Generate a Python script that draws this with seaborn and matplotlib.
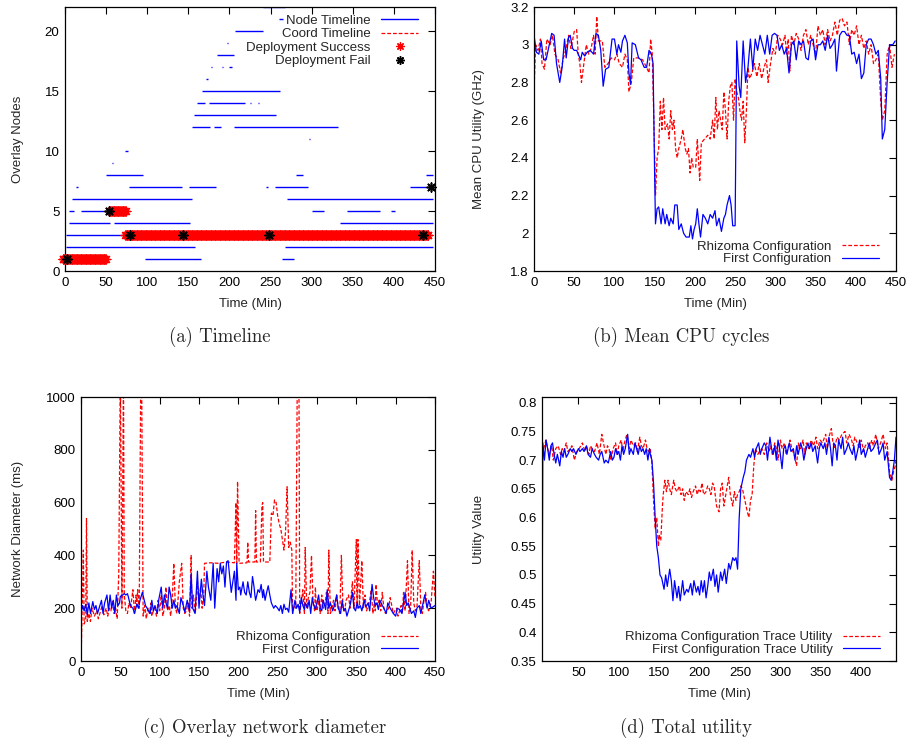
import numpy as np
import pandas as pd
import matplotlib
matplotlib.use("Agg")
import matplotlib.pyplot as plt
from matplotlib.lines import Line2D
from matplotlib.ticker import FuncFormatter, MultipleLocator
import seaborn as sns

# ---------------- DATA ----------------
# (a) Timeline: node timeline segments (level, start, end)
node_segments = [
    (1, 97, 165), (1, 264, 279),
    (2, 1, 158), (2, 267, 447),
    (3, 1, 73),
    (4, 5, 55), (4, 60, 152), (4, 334, 447),
    (5, 5, 11), (5, 19, 53), (5, 300, 315), (5, 343, 383), (5, 396, 401),
    (6, 8, 155), (6, 270, 447),
    (7, 13, 16), (7, 78, 142), (7, 151, 184), (7, 245, 246.5), (7, 256, 296), (7, 420, 447),
    (8, 50, 94.5), (8, 281, 289), (8, 439, 447),
    (9, 57, 58),
    (10, 73, 77),
    (11, 143, 144), (11, 297, 298),
    (12, 154, 176), (12, 181, 190), (12, 205, 332),
    (13, 157, 257),
    (14, 160, 170), (14, 175.5, 219), (14, 225.5, 226.5), (14, 234.5, 235.5),
    (15, 167, 261.5),
    (16, 172, 173.5),
    (17, 178, 179), (17, 191.5, 192.5), (17, 199, 203),
    (18, 185, 205.5),
    (19, 196.5, 198),
    (20, 207, 241),
    (21, 222, 223), (21, 260, 265),
    (22, 241, 267.5),
]
# coordinator runs with a successful deployment every minute (level, start, end)
success_runs = [(1, -3, 50), (5, 54, 74), (3, 73, 442)]
# failed deployments (level, time)
fail_events = [(1, 3), (5, 53), (3, 79.5), (3, 143.5), (3, 248.5), (3, 436), (7, 445)]

# (b) Mean CPU utility (GHz)
cpu_first = [
    (0, 3.05), (3, 2.96), (6, 2.95), (9, 3.02), (12, 2.92), (15, 2.92), (19, 3.0), (22, 3.06),
    (25, 3.05), (28, 2.9), (32, 2.8), (35, 2.88), (38, 3.03), (40, 2.93), (43, 3.04), (45, 3.05),
    (48, 2.98), (50, 2.97), (53, 2.97), (55, 2.95), (58, 2.92), (60, 2.96), (63, 2.94), (66, 2.96),
    (70, 2.97), (74, 2.95), (77, 3.06), (80, 3.05), (83, 2.97), (86, 2.78), (89, 2.87), (93, 2.88),
    (97, 3.03), (100, 3.03), (103, 2.95), (105, 3.0), (108, 2.96), (110, 3.02), (113, 3.05),
    (116, 3.01), (118, 2.85), (120, 2.79), (122, 3.01), (126, 3.0), (130, 2.93), (133, 2.92),
    (137, 2.88), (140, 2.88), (143, 2.97), (146, 2.95), (148, 2.9), (150, 2.3), (151, 2.05),
    (153, 2.13), (155, 2.14), (158, 2.05), (160, 2.13), (163, 2.05), (165, 2.1), (168, 2.04),
    (170, 2.08), (173, 2.05), (175, 2.15), (178, 2.15), (180, 2.02), (183, 2.05), (186, 2.0),
    (189, 1.98), (193, 1.98), (195, 2.04), (197, 1.97), (199, 2.02), (201, 2.05), (203, 2.13),
    (205, 2.05), (207, 1.98), (210, 2.1), (213, 2.08), (216, 2.05), (219, 2.1), (222, 2.08),
    (225, 2.12), (227, 2.04), (230, 2.08), (233, 2.01), (236, 2.08), (238, 2.1), (240, 2.15),
    (243, 2.2), (245, 2.15), (247, 2.04), (250, 2.04), (252, 3.02), (255, 2.78), (257, 2.72),
    (260, 3.02), (263, 2.8), (266, 2.88), (269, 3.03), (272, 2.87), (275, 3.03), (278, 2.97),
    (281, 3.05), (284, 3.0), (287, 2.95), (290, 3.05), (293, 2.95), (296, 3.05), (299, 3.06),
    (302, 3.05), (305, 2.97), (308, 3.0), (311, 2.95), (314, 2.98), (317, 2.85), (320, 3.0),
    (323, 3.02), (326, 2.92), (329, 3.02), (332, 3.0), (335, 3.02), (338, 2.93), (341, 2.92),
    (344, 3.02), (347, 3.03), (350, 2.92), (353, 3.0), (356, 3.0), (359, 3.02), (362, 2.97),
    (365, 3.05), (368, 2.98), (371, 3.0), (374, 3.03), (376, 2.86), (380, 3.05), (383, 3.07),
    (386, 3.07), (389, 3.05), (392, 3.05), (395, 2.95), (398, 2.96), (401, 2.9), (404, 2.95),
    (407, 2.82), (410, 2.85), (413, 3.0), (416, 3.03), (419, 3.03), (422, 3.0), (425, 2.95),
    (428, 2.97), (431, 2.82), (433, 2.5), (436, 2.55), (439, 2.8), (442, 3.0), (446, 3.0), (449, 3.02),
]
cpu_rhizoma = [
    (0, 2.75), (2, 3.0), (5, 2.97), (8, 3.03), (10, 2.9), (13, 2.87), (16, 3.03), (20, 3.0),
    (23, 3.05), (26, 2.95), (30, 2.92), (33, 2.85), (36, 2.92), (40, 2.98), (43, 3.05), (46, 2.98),
    (50, 3.07), (53, 3.08), (55, 2.95), (57, 2.9), (59, 2.8), (62, 2.9), (65, 3.0), (68, 2.95),
    (71, 2.98), (74, 3.05), (76, 2.95), (78, 3.15), (80, 3.02), (85, 3.02), (88, 2.88), (92, 2.9),
    (96, 2.93), (100, 2.92), (103, 2.95), (106, 2.9), (110, 2.88), (113, 2.95), (116, 2.92),
    (118, 2.75), (121, 2.8), (124, 2.93), (130, 2.93), (135, 2.92), (140, 2.88), (143, 2.85),
    (145, 3.03), (147, 2.95), (149, 2.6), (151, 2.2), (153, 2.4), (155, 2.45), (157, 2.7),
    (159, 2.55), (161, 2.72), (163, 2.55), (166, 2.58), (168, 2.5), (170, 2.65), (172, 2.55),
    (174, 2.6), (176, 2.45), (178, 2.4), (180, 2.45), (183, 2.5), (185, 2.55), (188, 2.45),
    (190, 2.42), (192, 2.45), (194, 2.32), (196, 2.4), (198, 2.35), (201, 2.35), (203, 2.5),
    (206, 2.28), (208, 2.48), (212, 2.5), (216, 2.52), (219, 2.5), (222, 2.6), (224, 2.5),
    (226, 2.72), (228, 2.55), (230, 2.65), (232, 2.6), (234, 2.55), (236, 2.75), (238, 2.65),
    (240, 2.5), (242, 2.7), (244, 2.78), (246, 2.8), (248, 2.6), (250, 2.82), (252, 2.75),
    (254, 2.72), (256, 2.65), (258, 2.6), (260, 2.7), (262, 2.48), (264, 2.65), (266, 2.88),
    (268, 2.82), (271, 2.85), (274, 2.9), (277, 2.83), (280, 2.9), (283, 2.82), (286, 2.88),
    (289, 2.92), (291, 2.8), (294, 2.9), (297, 2.98), (300, 2.95), (303, 3.05), (306, 3.03),
    (309, 3.0), (312, 3.05), (314, 2.95), (316, 3.03), (318, 2.86), (320, 3.05), (323, 3.0),
    (326, 3.06), (329, 3.03), (332, 2.97), (335, 3.05), (338, 3.08), (341, 3.0), (344, 3.05),
    (347, 3.0), (350, 2.95), (353, 3.1), (356, 3.05), (359, 3.08), (362, 3.0), (365, 3.08),
    (368, 3.02), (371, 3.05), (374, 3.12), (377, 3.05), (380, 3.13), (383, 3.14), (386, 3.1),
    (389, 3.12), (392, 3.0), (395, 3.08), (398, 3.05), (401, 3.1), (404, 3.0), (407, 3.05),
    (410, 2.98), (413, 3.02), (416, 2.95), (419, 3.0), (422, 2.9), (425, 2.92), (428, 2.95),
    (431, 2.7), (433, 2.6), (436, 2.65), (439, 2.95), (442, 3.0), (445, 2.88), (448, 2.95),
]

# (c) Overlay network diameter (ms)
diam_first = [
    (0, 180), (2, 210), (4, 190), (6, 215), (8, 175), (10, 220), (12, 180), (15, 225), (17, 195),
    (19, 210), (21, 180), (23, 200), (26, 230), (28, 180), (30, 220), (33, 250), (35, 190),
    (37, 250), (39, 200), (41, 230), (43, 180), (45, 250), (47, 210), (49, 220), (50, 245),
    (53, 250), (55, 255), (57, 250), (59, 255), (60, 245), (62, 220), (64, 205), (66, 200),
    (68, 180), (71, 215), (73, 200), (75, 230), (78, 260), (80, 235), (82, 210), (84, 200),
    (86, 190), (88, 180), (90, 230), (92, 190), (94, 210), (97, 180), (99, 235), (102, 280),
    (104, 200), (106, 250), (108, 220), (110, 200), (112, 280), (114, 250), (116, 200),
    (118, 230), (120, 200), (122, 210), (125, 180), (127, 240), (129, 220), (131, 200),
    (132, 185), (135, 230), (138, 190), (140, 330), (142, 200), (145, 180), (148, 340),
    (150, 200), (153, 310), (155, 250), (157, 210), (160, 340), (162, 280), (165, 230),
    (168, 370), (170, 200), (173, 350), (175, 300), (177, 370), (179, 330), (181, 360),
    (183, 280), (185, 375), (187, 380), (189, 320), (191, 260), (193, 300), (195, 340),
    (197, 230), (198, 370), (200, 270), (202, 280), (203, 250), (206, 300), (208, 260),
    (210, 250), (212, 300), (214, 260), (216, 240), (218, 320), (220, 280), (221, 250),
    (222, 230), (225, 270), (227, 260), (229, 290), (231, 240), (232, 270), (234, 230),
    (236, 260), (238, 285), (240, 250), (242, 220), (245, 200), (247, 210), (250, 200),
    (252, 190), (254, 210), (256, 180), (258, 215), (260, 195), (262, 200), (264, 185),
    (267, 270), (269, 180), (272, 230), (274, 200), (276, 215), (278, 185), (280, 240),
    (282, 210), (284, 195), (285, 220), (288, 200), (290, 230), (292, 180), (294, 240),
    (296, 210), (298, 195), (300, 220), (302, 250), (304, 200), (306, 190), (308, 230),
    (311, 195), (313, 270), (315, 200), (317, 220), (320, 190), (322, 210), (325, 250),
    (327, 200), (330, 180), (332, 230), (334, 190), (336, 200), (338, 170), (340, 190),
    (342, 210), (345, 260), (347, 200), (349, 190), (351, 220), (353, 200), (355, 210),
    (357, 190), (360, 230), (362, 205), (365, 220), (367, 190), (370, 290), (372, 240),
    (374, 210), (376, 220), (378, 195), (380, 230), (383, 210), (385, 200), (388, 180),
    (390, 220), (393, 200), (395, 190), (397, 180), (400, 170), (402, 200), (405, 195),
    (408, 180), (412, 260), (414, 210), (416, 220), (418, 200), (420, 180), (423, 190),
    (425, 165), (427, 200), (430, 210), (432, 180), (437, 250), (440, 200), (442, 230),
    (445, 200), (450, 210),
]
diam_rhizoma = [
    (0, 0), (1, 130), (3, 420), (4, 140), (6, 160), (7, 540), (8, 150), (10, 180), (12, 150),
    (14, 200), (17, 170), (20, 190), (22, 160), (24, 180), (27, 210), (29, 175), (32, 200),
    (34, 170), (36, 200), (38, 190), (40, 230), (42, 180), (44, 200), (46, 160), (48, 330),
    (50, 1100), (52, 200), (54, 1100), (55, 250), (57, 190), (59, 180), (61, 220), (63, 200),
    (66, 270), (68, 180), (70, 250), (71, 210), (72, 270), (74, 200), (76, 1100), (77, 1100),
    (79, 170), (81, 210), (83, 160), (85, 200), (87, 180), (89, 220), (90, 170), (92, 190),
    (94, 200), (96, 170), (98, 230), (100, 190), (102, 250), (104, 170), (106, 200), (108, 280),
    (110, 190), (112, 210), (114, 170), (116, 240), (118, 370), (120, 200), (122, 180),
    (125, 300), (128, 370), (130, 200), (132, 180), (134, 190), (136, 220), (138, 170),
    (140, 400), (141, 200), (143, 250), (145, 180), (146, 200), (148, 300), (150, 220),
    (152, 280), (154, 200), (156, 250), (157, 370), (165, 372), (175, 370), (185, 375),
    (195, 372), (197, 600), (198, 370), (199, 680), (201, 370), (211, 372), (212, 450),
    (213, 375), (221, 375), (222, 570), (223, 375), (228, 375), (230, 590), (231, 600),
    (232, 375), (240, 375), (242, 560), (244, 550), (246, 610), (248, 600), (250, 550),
    (252, 520), (254, 500), (256, 460), (258, 420), (260, 490), (262, 660), (264, 430),
    (266, 450), (268, 420), (269, 180), (271, 210), (273, 200), (275, 1100), (277, 1100),
    (278, 180), (280, 220), (282, 270), (284, 180), (285, 430), (287, 200), (289, 240),
    (291, 260), (293, 400), (295, 220), (297, 190), (298, 280), (299, 200), (300, 190),
    (302, 230), (304, 180), (306, 250), (308, 200), (310, 210), (312, 260), (314, 180),
    (315, 420), (317, 180), (319, 200), (321, 230), (323, 190), (325, 250), (327, 200),
    (329, 180), (331, 400), (333, 200), (335, 190), (337, 230), (340, 250), (342, 200),
    (345, 300), (347, 200), (350, 460), (351, 200), (352, 460), (354, 210), (357, 380),
    (359, 200), (361, 250), (363, 190), (365, 210), (367, 230), (369, 270), (371, 180),
    (373, 220), (374, 190), (375, 290), (377, 210), (379, 230), (381, 190), (383, 260),
    (385, 200), (387, 180), (389, 190), (391, 200), (393, 240), (395, 210), (397, 180),
    (399, 190), (401, 200), (403, 170), (405, 190), (407, 210), (408, 180), (409, 200),
    (410, 260), (412, 190), (415, 380), (417, 180), (419, 200), (421, 420), (423, 220),
    (425, 190), (427, 200), (430, 380), (432, 200), (434, 180), (436, 230), (438, 260),
    (440, 200), (442, 190), (445, 220), (448, 340), (450, 240),
]

# (d) Total utility
util_first = [
    (5, 0.35), (6, 0.73), (8, 0.70), (10, 0.735), (12, 0.72), (14, 0.70), (16, 0.725), (18, 0.73),
    (20, 0.71), (22, 0.695), (24, 0.71), (27, 0.69), (29, 0.715), (31, 0.705), (33, 0.72),
    (35, 0.705), (37, 0.71), (40, 0.72), (42, 0.715), (44, 0.72), (47, 0.71), (50, 0.72),
    (52, 0.715), (55, 0.72), (57, 0.715), (60, 0.725), (62, 0.71), (65, 0.705), (67, 0.72),
    (70, 0.71), (72, 0.705), (75, 0.70), (77, 0.71), (79, 0.715), (82, 0.695), (84, 0.70),
    (87, 0.695), (90, 0.715), (92, 0.70), (94, 0.705), (96, 0.72), (98, 0.71), (100, 0.715),
    (102, 0.70), (104, 0.725), (106, 0.71), (108, 0.72), (111, 0.745), (113, 0.71), (115, 0.72),
    (118, 0.71), (120, 0.73), (122, 0.72), (124, 0.71), (126, 0.725), (128, 0.715), (130, 0.72),
    (132, 0.71), (134, 0.72), (136, 0.70), (138, 0.72), (139, 0.71), (141, 0.70), (143, 0.66),
    (145, 0.60), (147, 0.55), (149, 0.53), (151, 0.50), (153, 0.495), (156, 0.475), (158, 0.50),
    (160, 0.48), (163, 0.51), (165, 0.49), (167, 0.455), (169, 0.49), (172, 0.46), (174, 0.48),
    (176, 0.455), (179, 0.49), (181, 0.465), (184, 0.475), (186, 0.47), (189, 0.485), (191, 0.465),
    (193, 0.49), (196, 0.47), (198, 0.48), (200, 0.465), (202, 0.49), (204, 0.47), (206, 0.49),
    (208, 0.46), (210, 0.48), (212, 0.505), (214, 0.49), (217, 0.51), (219, 0.48), (221, 0.50),
    (223, 0.47), (226, 0.505), (228, 0.49), (231, 0.51), (233, 0.485), (236, 0.52), (238, 0.51),
    (241, 0.53), (243, 0.525), (245, 0.53), (247, 0.51), (249, 0.60), (251, 0.65), (254, 0.67),
    (256, 0.68), (258, 0.70), (261, 0.71), (263, 0.705), (266, 0.72), (268, 0.705), (270, 0.72),
    (273, 0.73), (275, 0.71), (277, 0.72), (280, 0.73), (282, 0.725), (284, 0.70), (287, 0.74),
    (289, 0.72), (291, 0.71), (293, 0.725), (295, 0.70), (297, 0.735), (299, 0.72), (302, 0.685),
    (304, 0.72), (306, 0.725), (308, 0.71), (311, 0.73), (313, 0.715), (316, 0.72), (318, 0.70),
    (320, 0.725), (322, 0.71), (325, 0.73), (327, 0.72), (329, 0.70), (331, 0.715), (334, 0.73),
    (336, 0.72), (338, 0.73), (340, 0.715), (343, 0.725), (346, 0.695), (348, 0.72), (350, 0.73),
    (353, 0.72), (355, 0.73), (357, 0.71), (360, 0.74), (362, 0.72), (364, 0.69), (366, 0.73),
    (368, 0.725), (370, 0.70), (372, 0.735), (375, 0.72), (377, 0.74), (379, 0.71), (382, 0.72),
    (384, 0.73), (386, 0.72), (389, 0.71), (391, 0.725), (393, 0.70), (396, 0.72), (398, 0.735),
    (400, 0.71), (403, 0.72), (405, 0.705), (408, 0.72), (410, 0.73), (412, 0.715), (415, 0.72),
    (418, 0.73), (420, 0.735), (422, 0.71), (425, 0.72), (427, 0.73), (429, 0.70), (432, 0.715),
    (435, 0.67), (437, 0.665), (439, 0.68), (441, 0.70), (443, 0.74),
]
util_rhizoma = [
    (5, 0.70), (7, 0.72), (10, 0.735), (12, 0.72), (14, 0.71), (17, 0.725), (19, 0.70), (22, 0.72),
    (25, 0.725), (28, 0.71), (30, 0.72), (32, 0.715), (35, 0.73), (37, 0.715), (40, 0.72),
    (42, 0.725), (45, 0.70), (48, 0.715), (51, 0.72), (55, 0.73), (58, 0.715), (60, 0.725),
    (63, 0.71), (65, 0.725), (67, 0.72), (70, 0.715), (73, 0.73), (76, 0.71), (79, 0.745),
    (81, 0.73), (84, 0.71), (86, 0.725), (88, 0.72), (90, 0.70), (93, 0.72), (96, 0.73),
    (98, 0.71), (100, 0.725), (103, 0.735), (105, 0.715), (107, 0.73), (110, 0.745), (113, 0.72),
    (115, 0.735), (118, 0.725), (121, 0.73), (123, 0.715), (126, 0.74), (128, 0.725), (130, 0.72),
    (133, 0.735), (135, 0.72), (137, 0.715), (139, 0.72), (141, 0.695), (143, 0.63), (145, 0.58),
    (147, 0.60), (149, 0.55), (150, 0.57), (152, 0.56), (154, 0.62), (155, 0.64), (157, 0.665),
    (159, 0.645), (161, 0.665), (163, 0.65), (165, 0.64), (168, 0.665), (170, 0.65), (172, 0.645),
    (175, 0.655), (177, 0.64), (179, 0.65), (181, 0.63), (183, 0.645), (186, 0.64), (188, 0.65),
    (190, 0.635), (192, 0.645), (195, 0.655), (197, 0.64), (199, 0.65), (201, 0.645), (203, 0.66),
    (205, 0.64), (208, 0.645), (210, 0.655), (212, 0.65), (214, 0.64), (216, 0.66), (218, 0.655),
    (221, 0.62), (224, 0.61), (226, 0.65), (228, 0.66), (230, 0.62), (233, 0.645), (236, 0.67),
    (238, 0.64), (241, 0.62), (243, 0.645), (245, 0.63), (247, 0.64), (249, 0.645), (251, 0.655),
    (253, 0.65), (256, 0.63), (259, 0.61), (261, 0.60), (263, 0.63), (265, 0.64), (267, 0.69),
    (269, 0.72), (272, 0.71), (274, 0.715), (277, 0.72), (280, 0.71), (283, 0.73), (286, 0.715),
    (288, 0.725), (290, 0.71), (293, 0.73), (295, 0.72), (297, 0.70), (300, 0.735), (302, 0.72),
    (305, 0.73), (307, 0.71), (310, 0.725), (312, 0.735), (314, 0.72), (317, 0.71), (320, 0.69),
    (322, 0.73), (325, 0.72), (328, 0.735), (330, 0.71), (332, 0.73), (335, 0.72), (338, 0.735),
    (341, 0.725), (344, 0.74), (346, 0.72), (349, 0.735), (352, 0.73), (356, 0.745), (358, 0.72),
    (360, 0.74), (363, 0.755), (365, 0.73), (367, 0.72), (370, 0.74), (373, 0.735), (376, 0.745),
    (380, 0.75), (382, 0.73), (385, 0.745), (388, 0.735), (390, 0.725), (392, 0.74), (395, 0.73),
    (398, 0.72), (400, 0.735), (403, 0.715), (405, 0.725), (408, 0.73), (410, 0.72), (413, 0.735),
    (415, 0.725), (418, 0.745), (421, 0.72), (424, 0.73), (427, 0.745), (430, 0.72), (432, 0.73),
    (435, 0.68), (438, 0.665), (440, 0.68), (442, 0.69), (443, 0.70),
]

# ---------------- STYLE ----------------
sns.set_style("white")
plt.rcParams['font.family'] = ['Liberation Sans', 'DejaVu Sans']
plt.rcParams['axes.linewidth'] = 0.9

FS = 9.5
W, H = 912, 745
fig = plt.figure(figsize=(W / 100, H / 100), dpi=100)


def px_axes(left, top, right, bottom):
    return fig.add_axes([left / W, 1 - bottom / H, (right - left) / W, (bottom - top) / H])


def style_axes(ax):
    for s in ax.spines.values():
        s.set_visible(True)
        s.set_color('black')
        s.set_linewidth(0.9)
    ax.tick_params(direction='in', top=True, right=True, length=5, width=0.8,
                   labelsize=FS, pad=4, colors='black')
    ax.set_xlabel('')
    ax.set_ylabel('')


g_fmt = FuncFormatter(lambda v, p: ('%g' % round(v, 4)))
BLUE = '#0000ff'
RED = '#ff0000'

ax_a = px_axes(65, 7, 435, 271)
ax_b = px_axes(534, 7, 896, 271)
ax_c = px_axes(81, 397, 435, 661)
ax_d = px_axes(542, 397, 896, 661)


def series_df(pairs):
    return pd.DataFrame(pairs, columns=['t', 'v'])


def draw_pair(ax, red_pairs, blue_pairs):
    sns.lineplot(data=series_df(red_pairs), x='t', y='v', ax=ax, color=RED, lw=0.9,
                 estimator=None, sort=False, errorbar=None)
    ax.lines[-1].set_dashes((3, 1.6))
    sns.lineplot(data=series_df(blue_pairs), x='t', y='v', ax=ax, color=BLUE, lw=0.9,
                 estimator=None, sort=False, errorbar=None)


def pair_legend(ax, labels, anchor):
    handles = [Line2D([], [], color=RED, lw=0.9, dashes=(3, 1.6)),
               Line2D([], [], color=BLUE, lw=0.9)]
    ax.legend(handles, labels, loc='lower right', bbox_to_anchor=anchor, frameon=False,
              markerfirst=False, fontsize=FS, handlelength=2.8, handletextpad=0.8,
              labelspacing=0.0, borderpad=0, borderaxespad=0)


# ---------------- (a) Timeline ----------------
seg = pd.DataFrame(node_segments, columns=['level', 'start', 'end'])
ax_a.hlines(seg['level'], seg['start'], seg['end'], color=BLUE, lw=1.0, zorder=2)
runs = pd.DataFrame(success_runs, columns=['level', 'start', 'end'])
ax_a.hlines(runs['level'], runs['start'].clip(lower=0), runs['end'], color=RED, lw=0.9,
            linestyles=(0, (3, 1.6)), zorder=2)
succ_t, succ_l = [], []
for lvl, s, e in success_runs:
    for t in np.arange(s, e + 0.01, 1.0):
        succ_t.append(t)
        succ_l.append(lvl)
succ_df = pd.DataFrame({'t': succ_t, 'level': succ_l})
sns.scatterplot(data=succ_df, x='t', y='level', ax=ax_a, marker=(8, 2, 0), s=40,
                color=RED, linewidth=0.9, edgecolor=RED, zorder=3, clip_on=False)
fail_df = pd.DataFrame(fail_events, columns=['level', 't'])
sns.scatterplot(data=fail_df, x='t', y='level', ax=ax_a, marker=(8, 2, 0), s=40,
                color='black', linewidth=1.2, edgecolor='black', zorder=4, clip_on=False)
ax_a.set_xlim(0, 450)
ax_a.set_ylim(0, 22)
ax_a.xaxis.set_major_locator(MultipleLocator(50))
ax_a.yaxis.set_major_locator(MultipleLocator(5))
style_axes(ax_a)
handles_a = [Line2D([], [], color=BLUE, lw=1.0),
             Line2D([], [], color=RED, lw=0.9, dashes=(3, 1.6)),
             Line2D([], [], color=RED, lw=0, marker=(8, 2, 0), markersize=6, mew=0.9, mec=RED),
             Line2D([], [], color='black', lw=0, marker=(8, 2, 0), markersize=6, mew=1.1, mec='black')]
ax_a.legend(handles_a, ['Node Timeline', 'Coord Timeline', 'Deployment Success', 'Deployment Fail'],
            loc='upper right', bbox_to_anchor=(0.954, 0.972), frameon=False, markerfirst=False,
            fontsize=FS, handlelength=2.8, handletextpad=0.8, labelspacing=0.1,
            borderpad=0, borderaxespad=0)

# ---------------- (b) CPU ----------------
draw_pair(ax_b, cpu_rhizoma, cpu_first)
ax_b.set_xlim(0, 450)
ax_b.set_ylim(1.8, 3.2)
ax_b.xaxis.set_major_locator(MultipleLocator(50))
ax_b.yaxis.set_major_locator(MultipleLocator(0.2))
ax_b.yaxis.set_major_formatter(g_fmt)
style_axes(ax_b)
pair_legend(ax_b, ['Rhizoma Configuration', 'First Configuration'], (0.953, 0.022))

# ---------------- (c) Diameter ----------------
draw_pair(ax_c, diam_rhizoma, diam_first)
ax_c.set_xlim(0, 450)
ax_c.set_ylim(0, 1000)
ax_c.xaxis.set_major_locator(MultipleLocator(50))
ax_c.yaxis.set_major_locator(MultipleLocator(200))
style_axes(ax_c)
pair_legend(ax_c, ['Rhizoma Configuration', 'First Configuration'], (0.952, 0.02))

# ---------------- (d) Utility ----------------
draw_pair(ax_d, util_rhizoma, util_first)
ax_d.set_xlim(5, 443)
ax_d.set_ylim(0.35, 0.81)
ax_d.set_xticks([50, 100, 150, 200, 250, 300, 350, 400])
ax_d.set_yticks([0.35, 0.4, 0.45, 0.5, 0.55, 0.6, 0.65, 0.7, 0.75, 0.8])
ax_d.yaxis.set_major_formatter(g_fmt)
style_axes(ax_d)
pair_legend(ax_d, ['Rhizoma Configuration Trace Utility', 'First Configuration Trace Utility'],
            (0.955, 0.02))

# ---------------- labels & captions ----------------
def ftext(x, y, s, **kw):
    fig.text(x / W, 1 - y / H, s, **kw)

lab = dict(fontsize=FS, ha='center', va='center')
ftext(250, 304, 'Time (Min)', **lab)
ftext(715, 304, 'Time (Min)', **lab)
ftext(258, 694, 'Time (Min)', **lab)
ftext(719, 694, 'Time (Min)', **lab)
ftext(18, 139, 'Overlay Nodes', rotation=90, **lab)
ftext(479, 139, 'Mean CPU Utility (GHz)', rotation=90, **lab)
ftext(18, 529, 'Network Diameter (ms)', rotation=90, **lab)
ftext(479, 529, 'Utility Value', rotation=90, **lab)

cap = dict(fontsize=13.5, ha='center', va='center', family=['cmr10', 'DejaVu Serif'])
ftext(220, 337, '(a) Timeline', **cap)
ftext(681, 337, '(b) Mean CPU cycles', **cap)
ftext(265, 728, '(c) Overlay network diameter', **cap)
ftext(686, 728, '(d) Total utility', **cap)

fig.savefig('out.png', dpi=100)
